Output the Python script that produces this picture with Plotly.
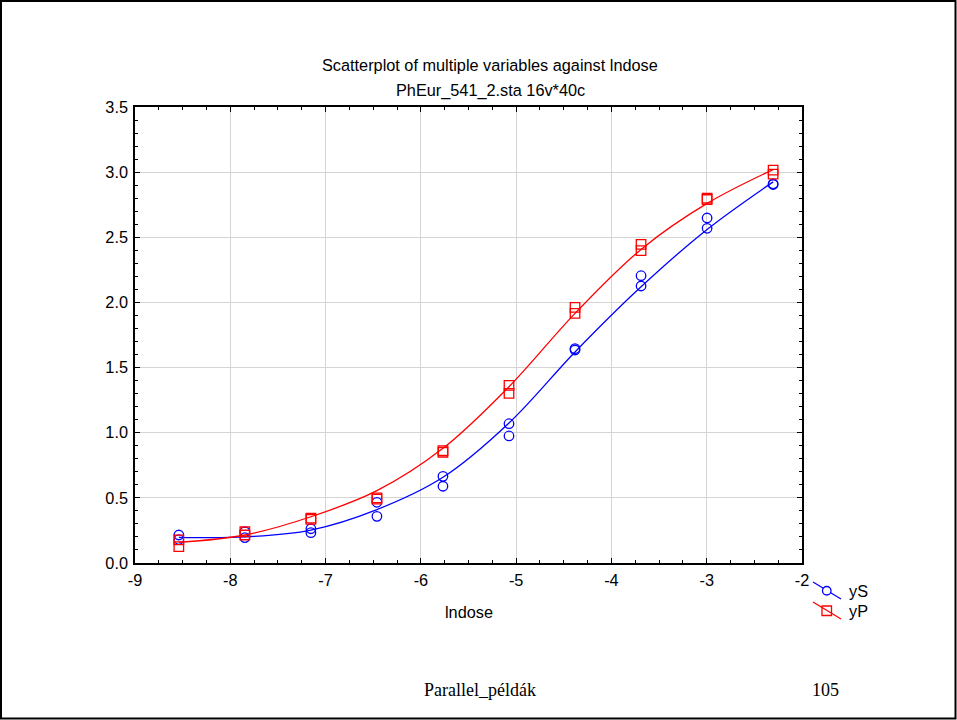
import plotly.graph_objects as go

# ---------------- data ----------------
lndose = [-8.540, -7.847, -7.154, -6.461, -5.768, -5.075, -4.382, -3.689, -2.996, -2.303]

yS_rep1 = [0.215, 0.240, 0.263, 0.466, 0.665, 1.069, 1.645, 2.205, 2.648, 2.910]
yS_rep2 = [0.180, 0.195, 0.233, 0.358, 0.589, 0.975, 1.635, 2.126, 2.569, 2.905]
yP_rep1 = [0.177, 0.240, 0.345, 0.500, 0.862, 1.364, 1.962, 2.446, 2.800, 3.016]
yP_rep2 = [0.125, 0.215, 0.335, 0.490, 0.850, 1.302, 1.916, 2.397, 2.790, 2.985]

# fitted curves at the dose points
yS_fit = [0.197, 0.200, 0.253, 0.410, 0.658, 1.075, 1.620, 2.120, 2.560, 2.925]
yP_fit = [0.158, 0.215, 0.355, 0.555, 0.880, 1.353, 1.916, 2.407, 2.760, 3.020]

x_ticks = [-9, -8, -7, -6, -5, -4, -3, -2]
y_ticks = [0.0, 0.5, 1.0, 1.5, 2.0, 2.5, 3.0, 3.5]

title1 = "Scatterplot of multiple variables against lndose"
title2 = "PhEur_541_2.sta 16v*40c"
x_title = "lndose"
series_names = ["yS", "yP"]
footer_left = "Parallel_példák"
footer_right = "105"

BLUE = "#0000ff"
RED = "#ff0000"
FONT = "Liberation Sans, Arial, sans-serif"
SERIF = "Liberation Serif, Times New Roman, serif"
FS = 16.3

# ---------------- geometry ----------------
W, H = 957, 720
L, R, T, B = 135, 802, 107, 563


def px(x):
    return (x - L) / (R - L)


def py(y):
    return (B - y) / (B - T)


fig = go.Figure()

xs2 = lndose + lndose
fig.add_trace(go.Scatter(x=lndose, y=yS_fit, mode="lines", line=dict(color=BLUE, width=1.3, shape="spline", smoothing=1.0),
                         hoverinfo="skip", showlegend=False))
fig.add_trace(go.Scatter(x=xs2, y=yS_rep1 + yS_rep2, mode="markers", name=series_names[0],
                         marker=dict(symbol="circle-open", size=9.5, color=BLUE, line=dict(width=1.3, color=BLUE)),
                         showlegend=False))
fig.add_trace(go.Scatter(x=lndose, y=yP_fit, mode="lines", line=dict(color=RED, width=1.3, shape="spline", smoothing=1.0),
                         hoverinfo="skip", showlegend=False))
fig.add_trace(go.Scatter(x=xs2, y=yP_rep1 + yP_rep2, mode="markers", name=series_names[1],
                         marker=dict(symbol="square-open", size=9.5, color=RED, line=dict(width=1.3, color=RED)),
                         showlegend=False))

axis_common = dict(
    showline=True, linecolor="black", linewidth=1.5, mirror="allticks",
    ticks="inside", ticklen=5, tickcolor="black", tickwidth=1,
    showgrid=True, gridcolor="#d4d4d4", gridwidth=1,
    zeroline=False,
    tickfont=dict(family=FONT, size=FS, color="black"),
)

fig.update_xaxes(range=[-9, -2], tickvals=x_ticks, ticktext=[str(v) for v in x_ticks],
                 minor=dict(dtick=0.25, tick0=-9, ticks="inside", ticklen=3, tickcolor="black", showgrid=False),
                 ticklabelstandoff=2, **axis_common)
fig.update_yaxes(range=[0, 3.5], tickvals=y_ticks, ticktext=[f"{v:.1f}" for v in y_ticks],
                 minor=dict(dtick=0.1, tick0=0, ticks="inside", ticklen=3, tickcolor="black", showgrid=False),
                 ticklabelstandoff=2, **axis_common)

annotations = [
    dict(text=title1, x=px(490), y=py(65), xref="paper", yref="paper", showarrow=False,
         font=dict(family=FONT, size=FS, color="black"), xanchor="center", yanchor="middle"),
    dict(text=title2, x=px(490), y=py(90), xref="paper", yref="paper", showarrow=False,
         font=dict(family=FONT, size=FS, color="black"), xanchor="center", yanchor="middle"),
    dict(text=x_title, x=px(469), y=py(612), xref="paper", yref="paper", showarrow=False,
         font=dict(family=FONT, size=FS, color="black"), xanchor="center", yanchor="middle"),
    dict(text=footer_left, x=px(480), y=py(690), xref="paper", yref="paper", showarrow=False,
         font=dict(family=SERIF, size=18, color="black"), xanchor="center", yanchor="middle"),
    dict(text=footer_right, x=px(825), y=py(690), xref="paper", yref="paper", showarrow=False,
         font=dict(family=SERIF, size=18, color="black"), xanchor="center", yanchor="middle"),
    # legend texts
    dict(text=series_names[0], x=px(847), y=py(591), xref="paper", yref="paper", showarrow=False,
         font=dict(family=FONT, size=FS, color="black"), xanchor="left", yanchor="middle"),
    dict(text=series_names[1], x=px(847), y=py(611), xref="paper", yref="paper", showarrow=False,
         font=dict(family=FONT, size=FS, color="black"), xanchor="left", yanchor="middle"),
]

shapes = [
    # page border
    dict(type="rect", xref="paper", yref="paper", x0=px(1), x1=px(955.5), y0=py(1), y1=py(718.5),
         line=dict(color="black", width=2), fillcolor="rgba(0,0,0,0)", layer="above"),
    # legend yS: diagonal line + circle
    dict(type="line", xref="paper", yref="paper", x0=px(813), y0=py(582), x1=px(841), y1=py(599),
         line=dict(color=BLUE, width=1.3)),
    dict(type="circle", xref="paper", yref="paper", x0=px(822.5), x1=px(831), y0=py(586.5), y1=py(595),
         line=dict(color=BLUE, width=1.3), fillcolor="white"),
    # legend yP: diagonal line + square
    dict(type="line", xref="paper", yref="paper", x0=px(813), y0=py(602), x1=px(841), y1=py(619),
         line=dict(color=RED, width=1.3)),
    dict(type="rect", xref="paper", yref="paper", x0=px(822), x1=px(831.5), y0=py(606), y1=py(615.5),
         line=dict(color=RED, width=1.3), fillcolor="rgba(0,0,0,0)"),
]

fig.update_layout(
    width=W, height=H, autosize=False,
    margin=dict(l=L, r=W - R, t=T, b=H - B, pad=0),
    paper_bgcolor="white", plot_bgcolor="white",
    showlegend=False,
    annotations=annotations, shapes=shapes,
    font=dict(family=FONT, size=FS, color="black"),
)

fig.write_html("out.html", config={"displayModeBar": False},
               post_script="document.body.style.margin='0';document.body.style.overflow='hidden';")
